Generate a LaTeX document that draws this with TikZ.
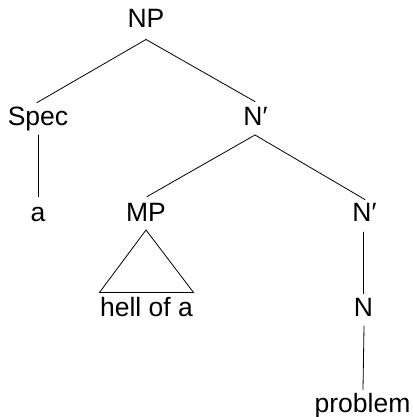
\documentclass[tikz,border=0pt]{standalone}
\usepackage{fontspec}
\setmainfont{Liberation Sans}
\begin{document}
\begin{tikzpicture}[x=1pt,y=1pt,
  lab/.style={inner sep=0pt, text height=18pt, text depth=0pt, font=\fontsize{26.5}{31}\selectfont, anchor=south},
  br/.style={line width=0.8pt, line cap=round}]
\useasboundingbox (0,0) rectangle (412,417);
\node[lab] (NP) at (146,389) {NP};
\node[lab] (Spec) at (38,291) {Spec};
\node[lab] (N1) at (255.5,291) {N′};
\node[lab] (a) at (38,195) {a};
\node[lab] (MP) at (146,195) {MP};
\node[lab] (N2) at (364.5,195) {N′};
\node[lab] (hell) at (146.5,100) {hell of a};
\node[lab] (N) at (363.5,100) {N};
\node[lab] (prob) at (362.5,4) {problem};
\draw[br] ([yshift=-11.5pt]NP.south) -- ([xshift=-1pt,yshift=5pt]Spec.north);
\draw[br] ([yshift=-11.5pt]NP.south) -- ([xshift=-0.5pt,yshift=6pt]N1.north);
\draw[br] ([yshift=-9pt]Spec.south) -- ([yshift=7pt]a.north);
\draw[br] ([xshift=-0.5pt,yshift=-9pt]N1.south) -- ([xshift=1pt,yshift=7pt]MP.north);
\draw[br] ([xshift=-0.5pt,yshift=-9pt]N1.south) -- ([xshift=0.5pt,yshift=4pt]N2.north);
\draw[br] ([yshift=-8pt]MP.south) -- ([xshift=-0.5pt,yshift=6pt]hell.north west) -- ([xshift=0.5pt,yshift=6pt]hell.north east) -- cycle;
\draw[br] ([xshift=-1.5pt,yshift=-10pt]N2.south) -- ([xshift=-0.5pt,yshift=5pt]N.north);
\draw[br] ([xshift=0.5pt,yshift=-9pt]N.south) -- ([xshift=0.5pt,yshift=5pt]prob.north);
\end{tikzpicture}
\end{document}
